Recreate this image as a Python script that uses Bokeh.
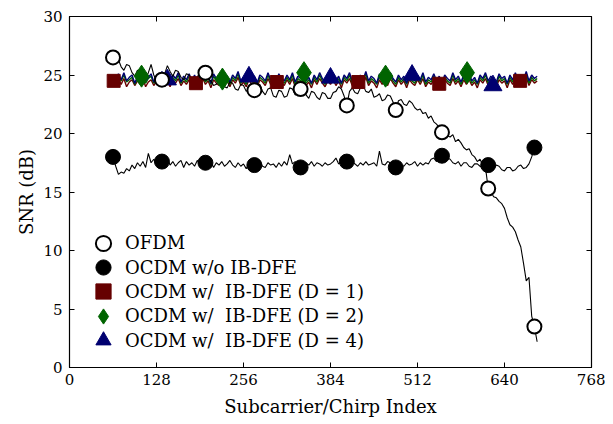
from bokeh.plotting import figure
from bokeh.models import LinearAxis, FixedTicker, Range1d, Legend, LegendItem
from bokeh.embed import file_html
from bokeh.resources import INLINE

# ---------------- data ----------------
idx = list(range(64, 689, 4))  # subcarrier/chirp index grid, 157 samples

ofdm = [26.5, 26.2, 26.3, 25.7, 25.4, 25.9, 25.8, 25.2, 24.9, 25.4,
        25.3, 24.8, 24.7, 25.2, 25.9, 25.0, 24.5, 24.9, 24.6, 25.1,
        25.8, 25.3, 24.9, 25.4, 25.3, 24.8, 24.6, 25.1, 25.0, 24.6,
        24.4, 24.9, 24.9, 24.6, 25.2, 24.7, 24.5, 24.1, 24.2, 24.6,
        24.6, 24.0, 23.9, 24.4, 24.3, 23.8, 23.7, 24.2, 24.1, 23.6,
        23.8, 24.2, 23.7, 24.0, 24.2, 23.6, 23.3, 23.8, 23.9, 23.2,
        23.1, 23.7, 23.6, 23.1, 23.2, 23.9, 23.8, 23.3, 23.4, 23.8,
        23.9, 23.3, 23.0, 23.6, 23.5, 23.1, 22.9, 23.5, 23.4, 23.0,
        23.0, 23.5, 23.6, 24.0, 23.8, 23.2, 22.4, 23.6, 23.9, 23.5,
        23.4, 23.9, 24.1, 23.6, 23.5, 23.8, 23.1, 23.2, 23.4, 22.8,
        22.9, 23.3, 23.2, 22.7, 22.0, 22.8, 22.9, 22.5, 22.4, 22.8,
        22.6, 22.2, 22.0, 22.1, 21.7, 21.8, 21.3, 21.5, 21.0, 20.8,
        20.5, 20.1, 20.4, 19.8, 19.7, 19.9, 19.3, 19.5, 19.2, 18.8,
        18.6, 18.7, 18.2, 18.0, 17.6, 17.8, 17.3, 17.1, 15.3, 15.0,
        14.6, 14.5, 14.2, 14.0, 13.6, 12.8, 12.2, 12.0, 11.6, 10.9,
        10.3, 8.9, 7.4, 7.7, 4.4, 3.5, 2.2]

ocdm_wo = [18.0, 17.2, 16.5, 16.7, 16.6, 17.0, 16.8, 17.3, 17.0, 17.5,
           17.2, 17.6, 17.1, 18.3, 17.5, 17.8, 17.3, 17.6, 17.6, 17.4,
           17.8, 17.3, 17.6, 17.2, 17.5, 17.7, 17.1, 17.6, 17.3, 17.5,
           17.2, 17.7, 17.4, 17.6, 17.5, 17.3, 17.6, 17.1, 17.5, 17.3,
           17.6, 17.2, 17.4, 17.7, 17.3, 17.1, 17.5, 17.2, 17.4, 17.0,
           17.4, 17.2, 17.3, 17.5, 17.6, 17.2, 17.1, 17.5, 17.3, 17.4,
           17.1, 17.5, 17.2, 17.6, 17.3, 18.2, 17.4, 17.6, 17.3, 17.1,
           17.1, 17.5, 17.3, 17.6, 17.2, 17.5, 17.4, 17.2, 17.5, 17.3,
           17.4, 17.6, 17.9, 17.4, 17.6, 17.3, 17.6, 17.2, 17.6, 17.4,
           17.2, 17.5, 17.3, 17.6, 17.3, 17.4, 17.5, 17.2, 18.5, 17.4,
           17.3, 17.6, 17.5, 17.2, 17.1, 17.6, 17.3, 17.2, 17.5, 17.3,
           17.4, 17.6, 17.2, 17.5, 17.3, 17.5, 17.4, 17.8, 17.9, 17.6,
           18.0, 18.1, 17.6, 17.9, 17.8, 17.5, 17.4, 17.6, 17.2, 17.5,
           17.5, 17.2, 17.1, 17.4, 17.4, 17.2, 17.1, 17.3, 17.3, 17.0,
           17.0, 17.3, 17.2, 16.9, 16.8, 17.1, 17.1, 16.8, 16.9, 17.2,
           17.3, 17.0, 17.1, 17.4, 18.0, 18.8, 18.8]

ibdfe_d1 = [24.5, 24.1, 24.6, 24.2, 24.7, 24.0, 24.4, 24.6, 24.1, 24.5,
            24.2, 24.7, 24.0, 24.4, 24.6, 24.1, 24.5, 24.2, 24.8, 24.0,
            24.4, 24.0, 24.6, 24.3, 24.7, 24.1, 24.5, 24.2, 24.6, 24.0,
            24.5, 24.1, 24.4, 24.7, 24.2, 24.5, 23.9, 24.6, 24.3, 24.1,
            24.7, 24.2, 24.5, 24.0, 24.6, 24.3, 24.8, 24.1, 24.4, 24.0,
            24.6, 24.2, 24.5, 23.9, 24.6, 24.4, 24.1, 24.7, 24.2, 24.5,
            24.0, 24.6, 24.3, 24.1, 24.6, 24.2, 24.7, 24.0, 24.5, 24.3,
            24.6, 24.1, 24.4, 23.9, 24.6, 24.2, 24.7, 24.3, 24.0, 24.5,
            24.2, 24.6, 24.1, 24.5, 23.9, 24.6, 24.3, 24.7, 24.1, 24.4,
            24.0, 24.6, 24.2, 24.8, 24.1, 24.5, 24.3, 23.9, 24.6, 24.2,
            24.5, 24.1, 24.7, 24.3, 24.0, 24.6, 24.2, 24.5, 23.9, 24.6,
            24.3, 24.1, 24.6, 24.2, 24.7, 24.0, 24.4, 24.2, 24.6, 24.1,
            24.5, 23.9, 24.6, 24.3, 24.1, 24.7, 24.2, 24.5, 24.0, 24.6,
            24.2, 24.6, 24.1, 24.4, 23.9, 24.6, 24.3, 24.7, 24.1, 24.5,
            24.2, 24.0, 24.6, 24.3, 24.5, 23.9, 24.6, 24.2, 24.7, 24.1,
            24.4, 24.2, 24.8, 24.1, 24.6, 24.3, 24.5]

ibdfe_d2 = [24.7, 24.3, 24.9, 24.5, 25.0, 24.4, 24.6, 24.8, 24.2, 24.7,
            24.4, 24.9, 24.3, 24.7, 24.9, 24.3, 24.8, 24.5, 25.0, 24.4,
            24.6, 24.2, 24.8, 24.5, 25.0, 24.3, 24.7, 24.4, 24.9, 24.3,
            24.8, 24.3, 24.6, 25.0, 24.4, 24.7, 24.2, 24.9, 24.5, 24.3,
            25.0, 24.4, 24.7, 24.2, 24.8, 24.5, 25.1, 24.3, 24.6, 24.2,
            24.9, 24.4, 24.7, 24.2, 24.8, 24.6, 24.3, 25.0, 24.4, 24.7,
            24.2, 24.9, 24.5, 24.3, 24.8, 24.4, 25.0, 24.2, 24.7, 24.5,
            24.9, 24.3, 24.6, 24.2, 24.8, 24.4, 25.0, 24.5, 24.2, 24.7,
            24.4, 24.9, 24.3, 24.7, 24.2, 24.8, 24.5, 25.0, 24.3, 24.6,
            24.2, 24.8, 24.4, 25.1, 24.3, 24.7, 24.5, 24.2, 24.9, 24.4,
            24.7, 24.3, 25.0, 24.5, 24.2, 24.8, 24.4, 24.7, 24.2, 24.9,
            24.5, 24.3, 24.8, 24.4, 25.0, 24.2, 24.6, 24.4, 24.9, 24.3,
            24.7, 24.2, 24.8, 24.5, 24.3, 25.0, 24.4, 24.7, 24.2, 24.8,
            24.4, 24.9, 24.3, 24.6, 24.2, 24.8, 24.5, 25.0, 24.3, 24.7,
            24.4, 24.2, 24.9, 24.5, 24.7, 24.2, 24.8, 24.4, 25.0, 24.3,
            24.6, 24.4, 25.1, 24.3, 24.8, 24.5, 24.7]

ibdfe_d4 = [24.9, 24.4, 25.1, 24.6, 25.2, 24.5, 24.8, 25.0, 24.3, 24.9,
            24.6, 25.2, 24.5, 24.8, 25.1, 24.4, 24.9, 24.6, 25.3, 24.5,
            24.8, 24.3, 25.0, 24.7, 25.2, 24.4, 24.9, 24.6, 25.1, 24.5,
            25.0, 24.4, 24.8, 25.2, 24.6, 24.9, 24.3, 25.1, 24.7, 24.5,
            25.2, 24.6, 24.9, 24.4, 25.0, 24.7, 25.3, 24.5, 24.8, 24.4,
            25.1, 24.6, 24.9, 24.3, 25.0, 24.8, 24.5, 25.2, 24.6, 24.9,
            24.4, 25.1, 24.7, 24.5, 25.0, 24.6, 25.2, 24.4, 24.9, 24.7,
            25.1, 24.5, 24.8, 24.3, 25.0, 24.6, 25.2, 24.7, 24.4, 24.9,
            24.6, 25.1, 24.5, 24.9, 24.3, 25.0, 24.7, 25.2, 24.5, 24.8,
            24.4, 25.0, 24.6, 25.3, 24.5, 24.9, 24.7, 24.3, 25.1, 24.6,
            24.9, 24.5, 25.2, 24.7, 24.4, 25.0, 24.6, 24.9, 24.3, 25.1,
            24.7, 24.5, 25.0, 24.6, 25.2, 24.4, 24.8, 24.6, 25.1, 24.5,
            24.9, 24.3, 25.0, 24.7, 24.5, 25.2, 24.6, 24.9, 24.4, 25.0,
            24.6, 25.1, 24.5, 24.8, 24.3, 25.0, 24.7, 25.2, 24.5, 24.9,
            24.6, 24.4, 25.1, 24.7, 24.9, 24.3, 25.0, 24.6, 25.2, 24.5,
            24.8, 24.6, 25.3, 24.5, 25.0, 24.7, 24.9]

# marker samples
circ_x = [64, 136, 200, 272, 340, 408, 480, 548, 616, 684]
ofdm_mk = [26.5, 24.6, 25.2, 23.7, 23.8, 22.4, 22.0, 20.1, 15.3, 3.5]
ocdm_wo_mk = [18.0, 17.6, 17.5, 17.3, 17.1, 17.6, 17.1, 18.1, 17.3, 18.8]
sq_x = [65, 186, 305, 425, 544, 663]
d1_mk = [24.5, 24.3, 24.4, 24.4, 24.25, 24.5]
dia_x = [106, 225, 345, 465, 585]
d2_mk = [24.9, 24.65, 25.2, 24.9, 25.2]
tri_x = [144, 264, 384, 504, 623]
d4_mk = [24.6, 24.85, 24.75, 25.0, 24.1]

x_ticks = [0, 128, 256, 384, 512, 640, 768]
y_ticks = [0, 5, 10, 15, 20, 25, 30]

labels = ["OFDM", "OCDM w/o IB-DFE", "OCDM w/  IB-DFE (D = 1)",
          "OCDM w/  IB-DFE (D = 2)", "OCDM w/  IB-DFE (D = 4)"]

RED = "#660000"
GREEN = "#006400"
BLUE = "#000070"
FONT = "DejaVu Serif"

# ---------------- figure ----------------
p = figure(width=605, height=419, output_backend="svg", toolbar_location=None,
           x_range=Range1d(0, 768), y_range=Range1d(0, 30),
           min_border_left=69, min_border_right=14, min_border_top=16,
           min_border_bottom=49)
p.grid.visible = False
p.outline_line_color = "black"
p.outline_line_width = 1.2
p.background_fill_color = "white"
p.border_fill_color = "white"

for ax in (p.xaxis[0], p.yaxis[0]):
    ax.major_tick_in = 5
    ax.major_tick_out = 0
    ax.minor_tick_line_color = None
    ax.axis_line_color = "black"
    ax.major_tick_line_color = "black"
    ax.major_label_text_font = FONT
    ax.major_label_text_font_size = "15px"
    ax.major_label_text_color = "black"
    ax.axis_label_text_font = FONT
    ax.axis_label_text_font_size = "18px"
    ax.axis_label_text_font_style = "normal"
    ax.axis_label_text_color = "black"
p.xaxis[0].ticker = FixedTicker(ticks=x_ticks)
p.yaxis[0].ticker = FixedTicker(ticks=y_ticks)
p.xaxis[0].axis_label = "Subcarrier/Chirp Index"
p.yaxis[0].axis_label = "SNR (dB)"
p.xaxis[0].major_label_standoff = 6
p.yaxis[0].major_label_standoff = 7
p.xaxis[0].axis_label_standoff = 8
p.yaxis[0].axis_label_standoff = 3

for loc, ticks in (("above", x_ticks), ("right", y_ticks)):
    ax = LinearAxis(ticker=FixedTicker(ticks=ticks))
    ax.major_label_overrides = {t: "" for t in ticks}
    ax.major_label_text_color = None
    ax.major_label_standoff = 0
    ax.major_tick_in = 5
    ax.major_tick_out = 0
    ax.minor_tick_line_color = None
    ax.axis_line_color = None
    ax.major_tick_line_color = "black"
    p.add_layout(ax, loc)

# lines
p.line(idx, ibdfe_d1, line_color=RED, line_width=1.4)
p.line(idx, ibdfe_d2, line_color=GREEN, line_width=1.4)
p.line(idx, ibdfe_d4, line_color=BLUE, line_width=1.4)
p.line(idx, ofdm, line_color="black", line_width=1.1)
p.line(idx, ocdm_wo, line_color="black", line_width=1.1)

# markers
r_sq = p.scatter(sq_x, d1_mk, marker="square", size=13, fill_color=RED, line_color=RED)
r_dia = p.scatter(dia_x, d2_mk, marker="diamond", size=22, fill_color=GREEN, line_color=GREEN)
r_tri = p.scatter(tri_x, d4_mk, marker="triangle", size=18, fill_color=BLUE, line_color=BLUE)
r_wo = p.scatter(circ_x, ocdm_wo_mk, marker="circle", size=15, fill_color="black", line_color="black")
r_of = p.scatter(circ_x, ofdm_mk, marker="circle", size=14, fill_color="white", line_color="black", line_width=2)

# one legend per entry, stacked about 24 px apart
renderers = [r_of, r_wo, r_sq, r_dia, r_tri]
for i, (lab, rr) in enumerate(zip(labels, renderers)):
    lg = Legend(items=[LegendItem(label=lab, renderers=[rr])],
                location=(15, 8 + (4 - i) * 24.3))
    lg.glyph_width = 38
    lg.glyph_height = 38
    lg.label_height = 24
    lg.padding = 0
    lg.margin = 0
    lg.label_standoff = 3
    lg.label_text_font = FONT
    lg.label_text_font_size = "18px"
    lg.label_text_color = "black"
    lg.border_line_color = None
    lg.background_fill_alpha = 0
    p.add_layout(lg, "center")

open("out.html", "w").write(file_html(p, INLINE))
